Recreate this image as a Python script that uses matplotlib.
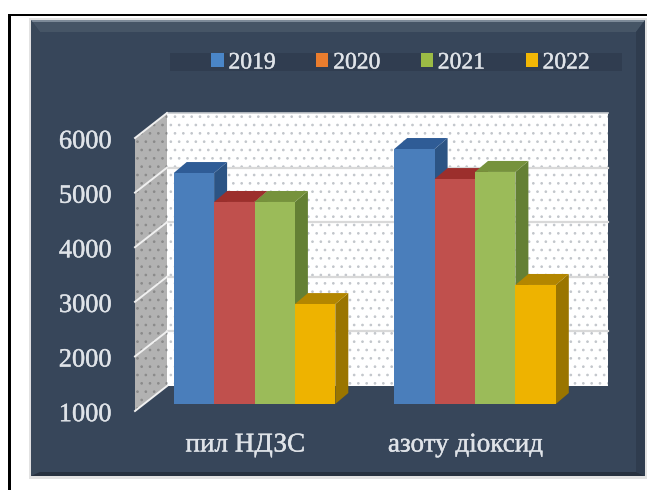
import matplotlib
matplotlib.use("Agg")
import matplotlib.pyplot as plt
import matplotlib.patheffects as pe
from matplotlib.patches import Polygon, Patch, Rectangle
from matplotlib.transforms import ScaledTranslation

years = ["2019", "2020", "2021", "2022"]
categories = ["пил НДЗС", "азоту діоксид"]
values_2019 = [5230, 5670]
values_2020 = [4700, 5120]
values_2021 = [4700, 5250]
values_2022 = [2830, 3180]
yticks = [1000, 2000, 3000, 4000, 5000, 6000]

series = [values_2019, values_2020, values_2021, values_2022]
front = ["#4a7ebb", "#c0504d", "#9bbb59", "#eeb300"]
top = ["#2f5c96", "#9c2f2c", "#76923c", "#b38600"]
side = ["#2c5484", "#96352f", "#648034", "#9a7500"]
legend_cols = ["#4a86c8", "#ea7d2e", "#9bbb45", "#f2b705"]
TXT = "#dfe3e8"
W, H = 647, 490

plt.rcParams["font.family"] = ["Liberation Serif", "DejaVu Serif"]
plt.rcParams["hatch.linewidth"] = 0.7
fig = plt.figure(figsize=(W / 100, H / 100), dpi=100, facecolor="white")

# page frame and bevelled panel, in pixel coordinates
bg = fig.add_axes([0, 0, 1, 1], zorder=0)
bg.set_xlim(0, W); bg.set_ylim(H, 0); bg.axis("off")
bg.add_patch(Rectangle((29, 18), 618, 461, fc="#e2e2e2", lw=0))
bg.add_patch(Rectangle((31, 20), 614, 456, fc="#37465a", lw=0))
bg.add_patch(Polygon([(31, 20), (645, 20), (636, 32), (40, 32)], fc="#465566", lw=0))
bg.add_patch(Rectangle((31, 20), 614, 2, fc="#7d8a98", lw=0))
bg.add_patch(Polygon([(31, 20), (40, 32), (40, 472), (31, 476)], fc="#394859", lw=0))
bg.add_patch(Polygon([(645, 20), (636, 32), (636, 472), (645, 476)], fc="#2f3c4e", lw=0))
bg.add_patch(Polygon([(31, 476), (40, 472), (636, 472), (645, 476)], fc="#27313f", lw=0))
bg.add_patch(Rectangle((9, 14), 638, 2.5, fc="black", lw=0))
bg.add_patch(Rectangle((8, 14), 2.5, 476, fc="black", lw=0))
bg.add_patch(Rectangle((170, 53), 452, 18, fc="#303d50", lw=0))

ax = fig.add_axes([135 / W, (H - 411) / H, 441 / W, 273 / H], zorder=1)
ax.patch.set_visible(False)
ax.set_xlim(-0.5, 1.5)
ax.set_ylim(1000, 6000)
for s in ax.spines.values():
    s.set_visible(False)

PX = 2 / 441      # x data units per pixel
PY = 5000 / 273   # value units per pixel
WALL = (32, 25)   # depth of the chart box, pixels
BAR_OFF = (9.25, 7)
BAR_D = (13, 11)
BAR_W = 40.4 * PX


def pt(x, v, off=(0, 0)):
    return (x + off[0] * PX, v + off[1] * PY)


def poly(points, **kw):
    ax.add_patch(Polygon(points, closed=True, clip_on=False, lw=0, **kw))


x0, x1 = ax.get_xlim()
v0, v1 = ax.get_ylim()
poly([pt(x0, v0, WALL), pt(x1, v0, WALL), pt(x1, v1, WALL), pt(x0, v1, WALL)],
     facecolor="white", edgecolor="#c2c6cb", hatch="..", zorder=1)
poly([pt(x0, v0), pt(x0, v0, WALL), pt(x0, v1, WALL), pt(x0, v1)],
     facecolor="#b2b2b2", edgecolor="#8a8a8a", hatch="..", zorder=1)

a, b = pt(x0, v1, WALL), pt(x1, v1, WALL)
ax.plot([a[0], b[0]], [a[1], b[1]], color="#c8ccd0", lw=1.2, clip_on=False, zorder=2)
for t in yticks[1:-1]:
    a, b = pt(x0, t, WALL), pt(x1, t, WALL)
    ax.plot([a[0], b[0]], [a[1], b[1]], color="#d9d9d9", lw=1.6, clip_on=False, zorder=2)
for t in yticks:
    a, b = pt(x0, t), pt(x0, t, WALL)
    ax.plot([a[0], b[0]], [a[1], b[1]], color="#f0f0f0", lw=1.4, clip_on=False, zorder=2)

z = 3
for g in range(len(categories)):
    for k, vals in enumerate(series):
        left = g + (k - 2) * BAR_W
        right = left + BAR_W
        v = vals[g]
        d = (BAR_OFF[0] + BAR_D[0], BAR_OFF[1] + BAR_D[1])
        poly([pt(right, v0, BAR_OFF), pt(right, v0, d), pt(right, v, d), pt(right, v, BAR_OFF)],
             facecolor=side[k], zorder=z)
        poly([pt(left, v, BAR_OFF), pt(right, v, BAR_OFF), pt(right, v, d), pt(left, v, d)],
             facecolor=top[k], zorder=z)
        poly([pt(left, v0, BAR_OFF), pt(right, v0, BAR_OFF), pt(right, v, BAR_OFF), pt(left, v, BAR_OFF)],
             facecolor=front[k], zorder=z + 0.5)
        z += 1

ax.set_yticks(yticks)
ax.set_xticks(range(len(categories)))
ax.set_xticklabels(categories)
ax.tick_params(axis="y", length=0, pad=17, labelsize=19, labelcolor=TXT)
ax.tick_params(axis="x", length=0, pad=15.5, labelsize=19.5, labelcolor=TXT)

heavy = [pe.withStroke(linewidth=0.3, foreground=TXT)]
shift = ScaledTranslation(0, -1.2 / 72, fig.dpi_scale_trans)
for lab in ax.get_yticklabels():
    lab.set_path_effects(heavy)
    lab.set_transform(lab.get_transform() + shift)
for lab in ax.get_xticklabels():
    lab.set_path_effects(heavy)

handles = [Patch(facecolor=c, label=y, lw=0) for c, y in zip(legend_cols, years)]
leg = fig.legend(handles=handles, ncol=4, frameon=False, fontsize=17,
                 loc="center", bbox_to_anchor=(400.5 / W, (H - 63) / H),
                 handlelength=0.52, handleheight=0.52, handletextpad=0.2,
                 columnspacing=1.72, labelcolor=TXT, borderpad=0)
for t in leg.get_texts():
    t.set_path_effects(heavy)

fig.savefig("out.png", dpi=100, facecolor="white")
